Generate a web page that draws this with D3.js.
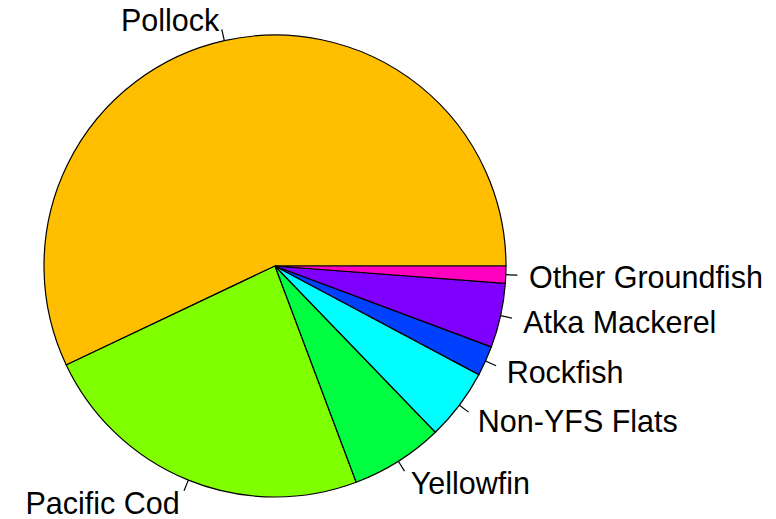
<!DOCTYPE html>
<html>
<head>
<meta charset="utf-8">
<script src="https://cdn.jsdelivr.net/npm/d3@7"></script>
<style>
  body { margin: 0; background: #fff; }
  text { font-family: "Liberation Sans", Arial, sans-serif; font-size: 30.5px; fill: #000; }
</style>
</head>
<body>
<script>
const species = ["Pollock", "Pacific Cod", "Yellowfin", "Non-YFS Flats", "Rockfish", "Atka Mackerel", "Other Groundfish"];
const shares = [57.1, 23.7, 6.5, 5.0, 2.1, 4.5, 1.2];
const colors = ["#FFBF00", "#80FF00", "#00FF40", "#00FFFF", "#0040FF", "#8000FF", "#FF00BF"];

const width = 776, height = 519;
const cx = 275, cy = 266, radius = 231;

const svg = d3.select("body")
    .append("svg")
    .attr("width", width)
    .attr("height", height);

const g = svg.append("g")
    .attr("transform", `translate(${cx},${cy})`);

// R style: start at 3 o'clock, go counterclockwise
const pie = d3.pie()
    .sort(null)
    .value(d => d.v)
    .startAngle(Math.PI / 2)
    .endAngle(Math.PI / 2 - 2 * Math.PI);

const data = species.map((s, i) => ({ name: s, v: shares[i], col: colors[i] }));
const arcs = pie(data);

const arc = d3.arc().innerRadius(0).outerRadius(radius);

g.selectAll("path")
    .data(arcs)
    .enter().append("path")
    .attr("d", arc)
    .attr("fill", d => d.data.col)
    .attr("stroke", "#000")
    .attr("stroke-width", 1.2);

const mid = d => (d.startAngle + d.endAngle) / 2;
const px = (a, r) => Math.sin(a) * r;
const py = (a, r) => -Math.cos(a) * r;

// little tick lines from the edge out to 1.05 r
g.selectAll("line.tick")
    .data(arcs)
    .enter().append("line")
    .attr("class", "tick")
    .attr("x1", d => px(mid(d), radius))
    .attr("y1", d => py(mid(d), radius))
    .attr("x2", d => px(mid(d), radius * 1.05))
    .attr("y2", d => py(mid(d), radius * 1.05))
    .attr("stroke", "#000")
    .attr("stroke-width", 1.2);

g.selectAll("text")
    .data(arcs)
    .enter().append("text")
    .attr("x", d => px(mid(d), radius * 1.1))
    .attr("y", d => py(mid(d), radius * 1.1))
    .attr("dy", "0.42em")
    .attr("text-anchor", d => px(mid(d), 1) > 0 ? "start" : "end")
    .text(d => d.data.name);
</script>
</body>
</html>
